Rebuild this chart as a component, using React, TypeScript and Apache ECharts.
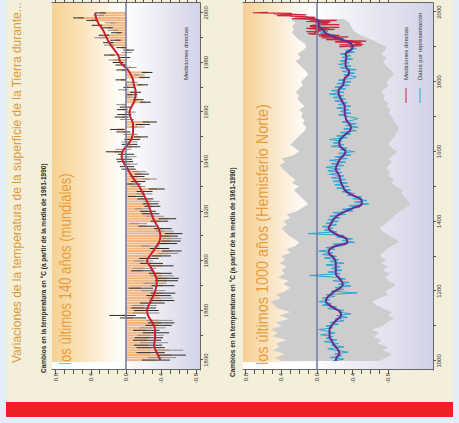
import React, { useEffect, useRef } from 'react';
import * as echarts from 'echarts';

// ---------- DATA ----------
const TOP_START = 1860;
const TOP_VALUES = [
  -0.34, -0.41, -0.52, -0.28, -0.49, -0.28, -0.25, -0.32, -0.24, -0.26,
  -0.28, -0.34, -0.23, -0.30, -0.37, -0.40, -0.38, -0.08, 0.04, -0.23,
  -0.23, -0.20, -0.21, -0.30, -0.41, -0.39, -0.37, -0.42, -0.31, -0.17,
  -0.42, -0.33, -0.46, -0.47, -0.41, -0.39, -0.19, -0.21, -0.41, -0.29,
  -0.20, -0.26, -0.40, -0.48, -0.52, -0.38, -0.28, -0.47, -0.51, -0.52,
  -0.49, -0.54, -0.44, -0.42, -0.24, -0.14, -0.38, -0.47, -0.33, -0.28,
  -0.25, -0.19, -0.30, -0.28, -0.29, -0.22, -0.11, -0.21, -0.21, -0.35,
  -0.14, -0.09, -0.14, -0.27, -0.13, -0.18, -0.15, -0.03, -0.01, -0.05,
  0.01, 0.02, -0.03, 0.00, 0.14, 0.03, -0.07, -0.04, -0.04, -0.07,
  -0.17, -0.05, 0.03, 0.10, -0.13, -0.19, -0.27, -0.01, 0.05, 0.02,
  -0.05, 0.04, 0.01, 0.05, -0.22, -0.14, -0.07, -0.07, -0.11, 0.03,
  -0.03, -0.19, -0.07, 0.06, -0.21, -0.15, -0.24, 0.05, -0.06, 0.06,
  0.09, 0.14, 0.01, 0.19, -0.01, -0.03, 0.05, 0.19, 0.20, 0.12,
  0.30, 0.25, 0.11, 0.15, 0.21, 0.33, 0.18, 0.39, 0.54, 0.31, 0.29,
];
// half-width of the uncertainty whiskers, one per decade (1860s ... 2000)
const TOP_ERR_BY_DECADE = [0.16, 0.15, 0.14, 0.13, 0.11, 0.1, 0.09, 0.08, 0.09, 0.08, 0.06, 0.06, 0.06, 0.06, 0.06];

const SMOOTH_TOP_YEARS = [
  1860, 1863, 1866, 1869, 1872, 1875, 1878, 1880, 1883, 1886,
  1889, 1892, 1895, 1898, 1900, 1902, 1905, 1908, 1910, 1913,
  1917, 1920, 1923, 1926, 1930, 1934, 1937, 1940, 1942, 1944,
  1946, 1949, 1952, 1955, 1958, 1960, 1962, 1965, 1968, 1971,
  1974, 1977, 1980, 1983, 1985, 1988, 1990, 1993, 1997, 2000,
];
const SMOOTH_TOP = [
  -0.39, -0.35, -0.32, -0.33, -0.33, -0.30, -0.25, -0.24, -0.27, -0.31,
  -0.34, -0.35, -0.32, -0.27, -0.24, -0.27, -0.33, -0.38, -0.39, -0.37,
  -0.31, -0.28, -0.25, -0.21, -0.15, -0.07, -0.02, 0.03, 0.05, 0.04,
  0.00, -0.06, -0.08, -0.08, -0.05, -0.04, -0.06, -0.10, -0.11, -0.09,
  -0.07, -0.02, 0.06, 0.09, 0.13, 0.19, 0.22, 0.26, 0.33, 0.35,
];

// Northern hemisphere, proxy data every 5 years from 1000
const PROXY_START = 1000;
const PROXY_STEP = 5;
const PROXY = [
  -0.18, -0.30, -0.15, -0.28, -0.20, -0.35, -0.22, -0.12, -0.30, -0.16,
  -0.24, -0.08, -0.22, -0.10, -0.18, -0.04, -0.20, -0.12, -0.02, -0.18,
  -0.10, -0.24, -0.14, -0.30, -0.20, -0.34, -0.22, -0.38, -0.24, -0.30,
  -0.12, -0.22, -0.06, -0.16, -0.02, -0.14, -0.06, -0.20, -0.10, -0.45,
  -0.16, -0.30, -0.20, -0.38, -0.24, -0.36, -0.18, -0.32, -0.20, 0.08,
  -0.26, -0.12, -0.28, -0.16, -0.26, -0.10, -0.30, -0.14, -0.24, -0.08,
  -0.22, -0.06, -0.18, -0.02, -0.20, -0.10, -0.28, -0.18, -0.42, -0.28,
  -0.40, -0.22, -0.30, 0.10, -0.22, -0.08, -0.18, -0.06, -0.22, -0.10,
  -0.24, -0.12, -0.26, -0.14, -0.32, -0.18, -0.40, -0.28, -0.48, -0.36,
  -0.58, -0.42, -0.56, -0.40, -0.50, -0.34, -0.42, -0.28, -0.38, -0.22,
  -0.36, -0.20, -0.34, -0.18, -0.32, -0.16, -0.30, -0.14, -0.28, -0.12,
  -0.26, -0.10, -0.30, -0.16, -0.32, -0.14, -0.34, -0.20, -0.38, -0.24,
  -0.42, -0.26, -0.34, -0.16, -0.30, -0.18, -0.28, -0.14, -0.34, -0.22,
  -0.38, -0.26, -0.44, -0.30, -0.46, -0.32, -0.44, -0.28, -0.40, -0.46,
  -0.36, -0.24, -0.38, -0.26, -0.36, -0.22, -0.38, -0.24, -0.34, -0.20,
  -0.32, -0.18, -0.30, -0.14, -0.30, -0.16, -0.32, -0.20, -0.36, -0.22,
  -0.38, -0.24, -0.40, -0.44, -0.30, -0.42, -0.28, -0.44, -0.26, -0.38,
  -0.24, -0.36, -0.26, -0.40, -0.28, -0.38, -0.26, -0.42, -0.32, -0.44,
  -0.36, -0.46, -0.34, -0.40, -0.24, -0.30, -0.14, -0.20, -0.04, -0.12,
  -0.02, -0.10, 0.02, -0.06, 0.00, -0.08, 0.04,
];

// uncertainty band and smoothed curve, every 10 years from 1000
const BAND_START = 1000;
const BAND_STEP = 10;
const BAND_UPPER = [
  0.40, 0.48, 0.36, 0.50, 0.42, 0.46, 0.34, 0.50, 0.44, 0.52,
  0.40, 0.46, 0.32, 0.42, 0.30, 0.44, 0.48, 0.52, 0.40, 0.46,
  0.36, 0.30, 0.38, 0.32, 0.44, 0.36, 0.40, 0.34, 0.42, 0.36,
  0.40, 0.30, 0.34, 0.24, 0.20, 0.26, 0.32, 0.36, 0.40, 0.34,
  0.38, 0.30, 0.34, 0.22, 0.16, 0.10, 0.14, 0.18, 0.22, 0.26,
  0.20, 0.28, 0.24, 0.30, 0.34, 0.38, 0.42, 0.36, 0.40, 0.26,
  0.20, 0.24, 0.30, 0.26, 0.22, 0.18, 0.14, 0.12, 0.16, 0.14,
  0.18, 0.16, 0.20, 0.14, 0.18, 0.22, 0.20, 0.24, 0.20, 0.16,
  0.18, 0.14, 0.10, 0.12, 0.16, 0.20, 0.24, 0.18, 0.22, 0.16,
  0.12, 0.14, 0.20, 0.24, 0.28, 0.26, 0.28, 0.24, 0.30,
];
const BAND_LOWER = [
  -0.70, -0.78, -0.84, -0.74, -0.80, -0.68, -0.72, -0.64, -0.70, -0.62,
  -0.74, -0.78, -0.86, -0.80, -0.84, -0.74, -0.66, -0.62, -0.70, -0.80,
  -0.76, -0.84, -0.88, -0.80, -0.76, -0.82, -0.74, -0.80, -0.72, -0.78,
  -0.70, -0.74, -0.78, -0.84, -0.92, -0.88, -0.80, -0.74, -0.70, -0.76,
  -0.80, -0.84, -0.88, -0.94, -1.00, -1.04, -1.02, -0.98, -0.94, -0.96,
  -0.88, -0.84, -0.86, -0.80, -0.82, -0.78, -0.80, -0.84, -0.80, -0.86,
  -0.90, -0.84, -0.80, -0.82, -0.86, -0.88, -0.90, -0.92, -0.88, -0.86,
  -0.84, -0.80, -0.82, -0.78, -0.80, -0.74, -0.76, -0.72, -0.76, -0.80,
  -0.78, -0.82, -0.86, -0.84, -0.80, -0.76, -0.74, -0.78, -0.72, -0.76,
  -0.78, -0.70, -0.62, -0.52, -0.44, -0.40, -0.38, -0.36, -0.30,
];
const SMOOTH_NH = [
  -0.21, -0.22, -0.25, -0.24, -0.21, -0.18, -0.16, -0.14, -0.14, -0.14,
  -0.16, -0.19, -0.23, -0.27, -0.26, -0.20, -0.14, -0.10, -0.11, -0.15,
  -0.20, -0.26, -0.29, -0.27, -0.24, -0.21, -0.21, -0.21, -0.21, -0.20,
  -0.17, -0.13, -0.14, -0.22, -0.34, -0.33, -0.24, -0.17, -0.13, -0.15,
  -0.17, -0.20, -0.25, -0.33, -0.42, -0.50, -0.50, -0.44, -0.36, -0.31,
  -0.29, -0.27, -0.26, -0.25, -0.23, -0.21, -0.22, -0.24, -0.26, -0.30,
  -0.32, -0.28, -0.25, -0.25, -0.28, -0.32, -0.37, -0.38, -0.36, -0.33,
  -0.32, -0.31, -0.31, -0.31, -0.29, -0.27, -0.25, -0.24, -0.25, -0.29,
  -0.30, -0.31, -0.35, -0.36, -0.33, -0.32, -0.32, -0.33, -0.32, -0.37,
  -0.40, -0.38, -0.29, -0.18, -0.10, -0.06, -0.02, -0.02, 0.02,
];

// direct measurements, Northern hemisphere, annual from 1900
const NH_DIRECT_START = 1900;
const NH_DIRECT = [
  -0.25, -0.28, -0.38, -0.45, -0.50, -0.40, -0.25, -0.52, -0.45, -0.48,
  -0.42, -0.45, -0.50, -0.40, -0.22, -0.20, -0.38, -0.55, -0.40, -0.28,
  -0.25, -0.10, -0.26, -0.22, -0.28, -0.15, -0.05, -0.15, -0.12, -0.35,
  -0.08, -0.02, -0.05, -0.25, -0.05, -0.12, -0.08, 0.05, 0.10, 0.02,
  0.03, 0.02, -0.02, 0.02, 0.12, -0.02, -0.05, 0.02, -0.02, -0.05,
  -0.20, -0.02, 0.05, 0.12, -0.10, -0.15, -0.25, 0.02, 0.08, 0.05,
  -0.02, 0.08, 0.02, 0.05, -0.25, -0.15, -0.08, -0.05, -0.12, 0.02,
  -0.02, -0.15, -0.12, 0.12, -0.15, -0.02, -0.22, 0.08, -0.02, 0.05,
  0.12, 0.28, 0.02, 0.25, 0.05, 0.02, 0.10, 0.15, 0.30, 0.28,
  0.45, 0.38, 0.12, 0.18, 0.32, 0.48, 0.28, 0.50, 0.72, 0.55,
];

// ticks / labels
const TEMP_TICKS = [0.8, 0.7, 0.6, 0.5, 0.4, 0.3, 0.2, 0.1, 0, -0.1, -0.2, -0.3, -0.4, -0.5, -0.6, -0.7, -0.8];
const TEMP_LABELS = [0.8, 0.4, 0, -0.4, -0.8];
const TOP_YEAR_TICKS = [1860, 1870, 1880, 1890, 1900, 1910, 1920, 1930, 1940, 1950, 1960, 1970, 1980, 1990, 2000];
const TOP_YEAR_LABELS = [1860, 1880, 1900, 1920, 1940, 1960, 1980, 2000];
const BOT_YEAR_TICKS = [1000, 1100, 1200, 1300, 1400, 1500, 1600, 1700, 1800, 1900, 2000];
const BOT_YEAR_LABELS = [1000, 1200, 1400, 1600, 1800, 2000];

const TITLE = 'Variaciones de la temperatura de la superficie de la Tierra durante...';
const SUBTITLE = 'Cambios en la temperatura en °C (a partir de la media de 1961-1990)';
const TOP_LABEL = 'los últimos 140 años (mundiales)';
const BOT_LABEL = 'los últimos 1000 años (Hemisferio Norte)';
const LEGEND_DIRECT = 'Mediciones directas';
const LEGEND_PROXY = 'Datos por representación';

// ---------- LAYOUT (upright frame, rotated by CSS) ----------
const W = 423;
const H = 459;
const G_TOP = { left: 53, top: 52, width: 367, height: 148 };
const G_BOT = { left: 53, top: 243, width: 367, height: 190 };
const FONT = 'Liberation Sans, Arial, sans-serif';

function buildOption() {
  const topBars = TOP_VALUES.map((v, i) => [TOP_START + i, v]);
  const topWhiskers = TOP_VALUES.map((v, i) => {
    const e = TOP_ERR_BY_DECADE[Math.floor(i / 10)];
    return [TOP_START + i, v - e, v + e, i % 3 === 1 ? 0 : 1];
  });
  const topSmooth = SMOOTH_TOP_YEARS.map((y, i) => [y, SMOOTH_TOP[i]]);
  const proxy = PROXY.map((v, i) => [PROXY_START + i * PROXY_STEP, v]);
  const nhSmooth = SMOOTH_NH.map((v, i) => [BAND_START + i * BAND_STEP, v]);
  const nhDirect = NH_DIRECT.map((v, i) => [NH_DIRECT_START + i, v]);

  const tempAxis = (gridIndex: number, min: number, max: number, right: boolean) => ({
    type: 'value',
    gridIndex,
    min,
    max,
    position: right ? 'right' : 'left',
    axisLine: { show: true, onZero: false, lineStyle: { color: '#666', width: 1 } },
    axisTick: { show: true, customValues: TEMP_TICKS, length: right ? 3 : 4, lineStyle: { color: '#555' } },
    axisLabel: {
      show: !right,
      customValues: TEMP_LABELS,
      formatter: (v: number) => v.toFixed(1),
      fontSize: 6,
      margin: 3,
      color: '#333',
      fontFamily: FONT,
    },
    splitLine: { show: false },
  });
  const yearAxis = (gridIndex: number, min: number, max: number, ticks: number[], labels: number[]) => ({
    type: 'value',
    gridIndex,
    min,
    max,
    axisLine: { show: true, onZero: false, lineStyle: { color: '#666', width: 1 } },
    axisTick: { show: true, customValues: ticks, length: 3, lineStyle: { color: '#555' } },
    axisLabel: { customValues: labels, fontSize: 6, margin: 3, color: '#333', fontFamily: FONT, formatter: (v: number) => String(v) },
    splitLine: { show: false },
  });

  const grad = (stops: [number, string][]) => ({
    type: 'linear', x: 0, y: 0, x2: 0, y2: 1,
    colorStops: stops.map(([offset, color]) => ({ offset, color })),
  });

  const text = (t: string, x: number, y: number, size: number, fill: string, opts: any = {}) => ({
    type: 'text',
    x,
    y,
    scaleX: opts.scaleX ?? 1,
    z: 50,
    style: {
      text: t,
      x: 0,
      y: 0,
      fill,
      fontSize: size,
      fontWeight: opts.bold ? 'bold' : 'normal',
      fontFamily: FONT,
      verticalAlign: 'middle',
      align: 'left',
    },
  });

  const graphic = [
    { type: 'rect', z: -5, shape: { x: 21, y: 6, width: W - 21, height: 447 }, style: { fill: '#f3efdb' } },
    { type: 'rect', z: -5, shape: { x: 6, y: 6, width: 15, height: 447 }, style: { fill: '#ee1f26' } },
    {
      type: 'rect', z: -4,
      shape: { x: G_TOP.left, y: G_TOP.top, width: G_TOP.width, height: G_TOP.height },
      style: { fill: grad([[0, '#f6d192'], [0.16, '#f9dfb1'], [0.36, '#fdf3e2'], [0.48, '#ffffff'], [0.6, '#f6f6fa'], [1, '#d3d3e8']]) },
    },
    { type: 'rect', z: -3, shape: { x: G_TOP.left, y: G_TOP.top, width: 8, height: 74 }, style: { fill: '#ffffff' } },
    {
      type: 'rect', z: -4,
      shape: { x: G_BOT.left, y: G_BOT.top, width: G_BOT.width, height: G_BOT.height },
      style: { fill: grad([[0, '#f5ce92'], [0.12, '#f9e1ba'], [0.27, '#fdf5ea'], [0.38, '#ffffff'], [0.5, '#f4f4f9'], [1, '#d2d2e7']]) },
    },
    { type: 'rect', z: -3, shape: { x: G_BOT.left, y: G_BOT.top, width: 8, height: 74 }, style: { fill: '#ffffff' } },

    text(TITLE, 60, 17, 12, '#dd9a34', { scaleX: 1.0 }),
    text(SUBTITLE, 50, 43, 6.5, '#2a2a2a', { bold: true }),
    text(TOP_LABEL, 58, 66, 16, '#e89e3a', { scaleX: 0.82 }),
    text(LEGEND_DIRECT, 343, 186, 6, '#333'),
    text(SUBTITLE, 46, 232, 6.5, '#2a2a2a', { bold: true }),
    text(BOT_LABEL, 58, 262, 16, '#e89e3a', { scaleX: 0.9 }),
    { type: 'line', z: 50, shape: { x1: 320, y1: 406, x2: 335, y2: 406 }, style: { stroke: '#c8283c', lineWidth: 1 } },
    text(LEGEND_DIRECT, 343, 406, 6, '#333'),
    { type: 'line', z: 50, shape: { x1: 320, y1: 420, x2: 335, y2: 420 }, style: { stroke: '#2aa5d6', lineWidth: 1 } },
    text(LEGEND_PROXY, 343, 420, 6, '#333'),
  ];

  const zeroLine = {
    silent: true,
    symbol: ['none', 'none'],
    label: { show: false },
    lineStyle: { color: '#6b7aa0', width: 1.5, type: 'solid' },
    data: [{ yAxis: 0 }],
  };

  return {
    animation: false,
    backgroundColor: '#e3eef9',
    graphic,
    grid: [
      { ...G_TOP, containLabel: false },
      { ...G_BOT, containLabel: false },
    ],
    xAxis: [
      yearAxis(0, 1856, 2004, TOP_YEAR_TICKS, TOP_YEAR_LABELS),
      yearAxis(1, 974, 2026, BOT_YEAR_TICKS, BOT_YEAR_LABELS),
    ],
    yAxis: [
      tempAxis(0, -0.84, 0.84, false),
      tempAxis(0, -0.84, 0.84, true),
      tempAxis(1, -1.3, 0.83, false),
      tempAxis(1, -1.3, 0.83, true),
    ],
    series: [
      {
        type: 'bar',
        xAxisIndex: 0,
        yAxisIndex: 0,
        data: topBars,
        barWidth: 2,
        itemStyle: { color: '#f2ad72', opacity: 0.9 },
        markLine: zeroLine,
        z: 2,
      },
      {
        type: 'custom',
        xAxisIndex: 0,
        yAxisIndex: 0,
        data: topWhiskers,
        encode: { x: 0, y: [1, 2] },
        renderItem: (params: any, api: any) => {
          const p1 = api.coord([api.value(0), api.value(1)]);
          const p2 = api.coord([api.value(0), api.value(2)]);
          return {
            type: 'line',
            shape: { x1: p1[0], y1: p1[1], x2: p2[0], y2: p2[1] },
            style: { stroke: api.value(3) ? '#2b2b2b' : '#8c8c8c', lineWidth: 1 },
          };
        },
        z: 3,
      },
      {
        type: 'line',
        xAxisIndex: 0,
        yAxisIndex: 0,
        data: topSmooth,
        smooth: 0.5,
        showSymbol: false,
        lineStyle: { color: '#c8202e', width: 2 },
        z: 4,
      },
      {
        type: 'custom',
        xAxisIndex: 1,
        yAxisIndex: 2,
        data: [[1500, 0]],
        renderItem: (params: any, api: any) => {
          const up = BAND_UPPER.map((v, i) => api.coord([BAND_START + i * BAND_STEP, v]));
          const lo = BAND_LOWER.map((v, i) => api.coord([BAND_START + i * BAND_STEP, v])).reverse();
          return { type: 'polygon', shape: { points: up.concat(lo) }, style: { fill: '#cdcdcd' } };
        },
        z: 1,
      },
      {
        type: 'line',
        xAxisIndex: 1,
        yAxisIndex: 2,
        data: proxy,
        showSymbol: false,
        lineStyle: { color: '#2aa5d6', width: 1 },
        markLine: zeroLine,
        z: 3,
      },
      {
        type: 'line',
        xAxisIndex: 1,
        yAxisIndex: 2,
        data: nhDirect,
        showSymbol: false,
        lineStyle: { color: '#c8283c', width: 1.2 },
        z: 4,
      },
      {
        type: 'line',
        xAxisIndex: 1,
        yAxisIndex: 2,
        data: nhSmooth,
        smooth: 0.5,
        showSymbol: false,
        lineStyle: { color: '#6b2a8e', width: 2 },
        z: 5,
      },
    ],
  };
}

export default function App() {
  const ref = useRef<HTMLDivElement>(null);
  useEffect(() => {
    if (!ref.current) return;
    const chart = echarts.init(ref.current, null, { renderer: 'svg' });
    chart.setOption(buildOption() as any);
    return () => chart.dispose();
  }, []);
  return (
    <div style={{ position: 'fixed', left: 0, top: 0, width: 459, height: 423, overflow: 'hidden', background: '#e3eef9' }}>
      <div
        ref={ref}
        style={{ position: 'absolute', left: (459 - W) / 2, top: (423 - H) / 2, width: W, height: H, transform: 'rotate(-90deg)' }}
      />
    </div>
  );
}
